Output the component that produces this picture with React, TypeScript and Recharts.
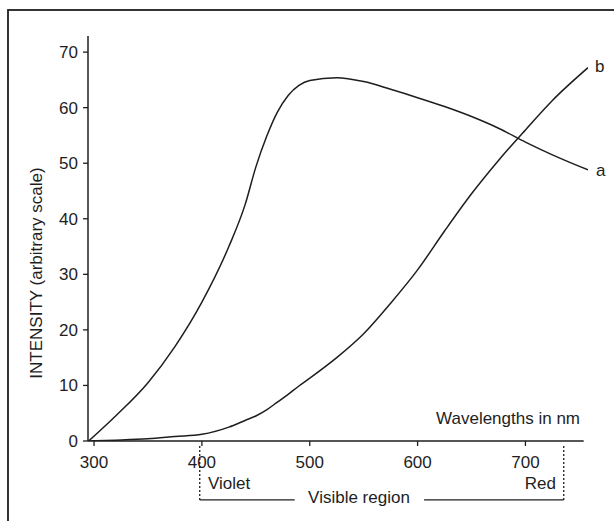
import { LineChart, Line, XAxis, YAxis, ReferenceLine } from 'recharts'

// wavelength in nm
const WAVELENGTH = [295, 320, 350, 375, 400, 425, 440, 450, 460, 470, 480, 490, 500, 525, 550, 575, 600, 625, 650, 675, 700, 725, 758]
// curve a
const CURVE_A = [0, 4.5, 10.5, 17, 25, 35, 42.5, 49.3, 54.8, 59.2, 62.2, 64, 64.9, 65.4, 64.7, 63.3, 61.8, 60.2, 58.4, 56.3, 53.8, 51.5, 48.8]
// curve b
const CURVE_B = [0, 0.15, 0.4, 0.8, 1.2, 2.5, 3.7, 4.5, 5.6, 7, 8.4, 9.9, 11.3, 15, 19.3, 24.8, 30.8, 37.8, 44.5, 50.5, 56, 61.3, 67.2]

const X_TICKS = [300, 400, 500, 600, 700]
const Y_TICKS = [0, 10, 20, 30, 40, 50, 60, 70]

const rows = WAVELENGTH.map((nm, i) => ({ nm, a: CURVE_A[i], b: CURVE_B[i] }))

const INK = '#1e1e1e'
const FONT = '"Liberation Sans", Arial, Helvetica, sans-serif'

function endLabel(name: string, dx: number, dy: number) {
  return (p: any) => {
    if (p.index !== rows.length - 1) return <g />
    return (
      <text x={p.x + dx} y={p.y + dy} fontSize={17} fill={INK} fontFamily={FONT}>
        {name}
      </text>
    )
  }
}

export default function App() {
  const axisTick = { fontSize: 17, fill: INK, fontFamily: FONT }
  return (
    <div style={{ position: 'absolute', left: 0, top: 0, width: 614, height: 521, background: '#fff' }}>
      <LineChart width={614} height={521} data={rows} margin={{ top: 36, right: 26, bottom: 50, left: 48 }}>
        <XAxis
          dataKey="nm"
          type="number"
          domain={[294.4, 758]}
          ticks={X_TICKS}
          axisLine={false}
          tickLine={{ stroke: INK, strokeWidth: 1.3 }}
          tickSize={5}
          tickMargin={10}
          height={30}
          tick={axisTick}
          allowDataOverflow
        />
        <YAxis
          type="number"
          domain={[0, 72.9]}
          ticks={Y_TICKS}
          axisLine={{ stroke: INK, strokeWidth: 1.5 }}
          tickLine={{ stroke: INK, strokeWidth: 1.3 }}
          tickSize={5}
          tickMargin={5}
          width={40}
          tick={axisTick}
          allowDataOverflow
        />
        {/* x axis line stops short of the right end */}
        <ReferenceLine segment={[{ x: 294.4, y: 0 }, { x: 754, y: 0 }]} stroke={INK} strokeWidth={1.5} ifOverflow="visible" />

        {/* visible region bracket under the axis */}
        <ReferenceLine segment={[{ x: 398, y: -0.9 }, { x: 398, y: -10.6 }]} stroke={INK} strokeWidth={1.3} strokeDasharray="2 2" ifOverflow="visible" />
        <ReferenceLine segment={[{ x: 735.5, y: -0.9 }, { x: 735.5, y: -10.6 }]} stroke={INK} strokeWidth={1.3} strokeDasharray="2 2" ifOverflow="visible" />
        <ReferenceLine segment={[{ x: 398, y: -10.6 }, { x: 486, y: -10.6 }]} stroke={INK} strokeWidth={1.2} ifOverflow="visible" />
        <ReferenceLine segment={[{ x: 606, y: -10.6 }, { x: 735.5, y: -10.6 }]} stroke={INK} strokeWidth={1.2} ifOverflow="visible" />

        <Line
          type="monotone"
          dataKey="a"
          stroke={INK}
          strokeWidth={1.5}
          dot={false}
          isAnimationActive={false}
          label={endLabel('a', 8, 6)}
        />
        <Line
          type="monotone"
          dataKey="b"
          stroke={INK}
          strokeWidth={1.5}
          dot={false}
          isAnimationActive={false}
          label={endLabel('b', 7, 4)}
        />
      </LineChart>

      <svg
        width={614}
        height={521}
        style={{ position: 'absolute', left: 0, top: 0, pointerEvents: 'none' }}
        fontFamily={FONT}
        fill={INK}
      >
        <rect x={8} y={10} width={640} height={540} fill="none" stroke={INK} strokeWidth={1.8} />
        <text x={36} y={273} fontSize={17} textAnchor="middle" dominantBaseline="central" transform="rotate(-90 36 273)">
          INTENSITY (arbitrary scale)
        </text>
        <text x={580} y={424} fontSize={17} textAnchor="end">
          Wavelengths in nm
        </text>
        <text x={208} y={489} fontSize={17}>Violet</text>
        <text x={556} y={489} fontSize={17} textAnchor="end">Red</text>
        <text x={359} y={503} fontSize={17} textAnchor="middle">Visible region</text>
      </svg>
    </div>
  )
}
